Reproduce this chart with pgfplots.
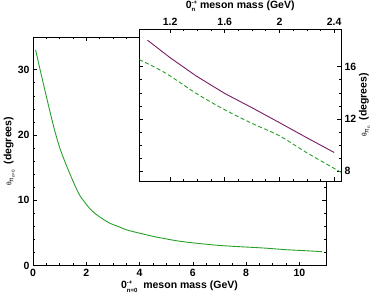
\documentclass[border=0pt]{standalone}
\usepackage{pgfplots}
\pgfplotsset{compat=1.18}
\usepackage{fontspec}
\setmainfont{Liberation Sans}
\setsansfont{Liberation Sans}
\definecolor{mygreen}{RGB}{40,160,40}
\definecolor{mypurple}{RGB}{120,30,100}
\newcommand{\ssz}{\fontsize{6.5}{6.5}\selectfont}
\newcommand{\SupSub}[2]{\raisebox{-3.5pt}{\fontsize{6}{7.5}\selectfont\bfseries\setlength{\tabcolsep}{0pt}\renewcommand{\arraystretch}{1}\begin{tabular}[b]{@{}l@{}}#1\\#2\end{tabular}}}
\begin{document}
\begin{tikzpicture}[font=\fontsize{10.5}{12}\selectfont\bfseries]
\useasboundingbox (0,0) rectangle (374pt,-294pt);
\pgfplotsset{every axis/.append style={
  scale only axis, axis line style={line width=0.8pt},
  tick style={black, line width=0.6pt},
  major tick length=4pt, minor tick length=2.3pt,
  tick align=inside,
  /pgf/number format/assume math mode=true,
  tick label style={font=\fontsize{10.5}{12}\selectfont\bfseries},
  label style={font=\fontsize{10.5}{12}\selectfont\bfseries},
}}
\begin{axis}[
  at={(33pt,-265.7pt)}, anchor=south west,
  width=293pt, height=228.7pt,
  xmin=0, xmax=11, ymin=0, ymax=35,
  xtick={0,2,4,6,8,10}, ytick={0,10,20,30},
  minor x tick num=3, minor y tick num=4,
  xtick pos=both, ytick pos=both,
  xticklabel pos=lower, yticklabel pos=left,
  xlabel={0\SupSub{-+}{n=0}\ \ meson mass (GeV)},
  ylabel={{\mdseries\ssz θ\raisebox{-2pt}{π\raisebox{-1.5pt}{\fontsize{4.5}{4.5}\selectfont n=0}}}\ \ (degrees)},
  xlabel style={yshift=4pt},
  ylabel style={yshift=-4pt},
]
\addplot[mygreen, line width=0.9pt, smooth] coordinates {
(0.1,33.0) (0.26,30.1) (0.45,26.8) (0.63,23.7) (0.8,20.9) (1.0,18.1) (1.2,15.9) (1.38,14.1)
(1.55,12.5) (1.75,10.8) (2.0,9.4) (2.12,8.8) (2.3,8.1) (2.49,7.5) (2.86,6.55) (3.23,5.95)
(3.5,5.5) (3.98,5.0) (4.5,4.5) (5.0,4.1) (5.5,3.75) (6.2,3.41) (7.0,3.1) (7.8,2.9)
(8.68,2.7) (9.5,2.45) (10.2,2.3) (10.85,2.15)
};
\end{axis}
\fill[white] (139.3pt,-181pt) rectangle (341pt,-29pt);
\begin{axis}[
  at={(139.3pt,-181pt)}, anchor=south west,
  width=201.7pt, height=152pt,
  xmin=0.975, xmax=2.45, ymin=7.23, ymax=18.9,
  xtick={1.2,1.6,2,2.4}, ytick={8,12,16},
  xticklabels={1.2,1.6,2,2.4},
  minor x tick num=3, minor y tick num=3,
  xtick pos=both, ytick pos=both,
  xticklabel pos=upper, yticklabel pos=right,
  xlabel={0\SupSub{-+}{n}\ meson mass (GeV)},
  ylabel={{\mdseries\ssz θ\raisebox{-2pt}{π\raisebox{-1.5pt}{\fontsize{4.5}{4.5}\selectfont n}}}\ \ (degrees)},
  xlabel style={yshift=-3pt},
  ylabel style={yshift=4pt},
  axis background/.style={fill=white},
]
\addplot[mypurple, line width=0.9pt] coordinates {
(1.035,18.04) (1.2,16.7) (1.39,15.3) (1.6,13.95) (1.8,12.85) (2.0,11.71) (2.2,10.55) (2.4,9.42)
};
\addplot[mygreen, line width=0.9pt, dashed, dash pattern=on 4pt off 2.5pt, smooth] coordinates {
(0.975,16.55) (1.1,15.9) (1.2,15.3) (1.4,13.9) (1.6,12.7) (1.8,11.65) (2.0,10.7) (2.2,9.4) (2.4,8.2) (2.45,7.9)
};
\end{axis}
\end{tikzpicture}
\end{document}
